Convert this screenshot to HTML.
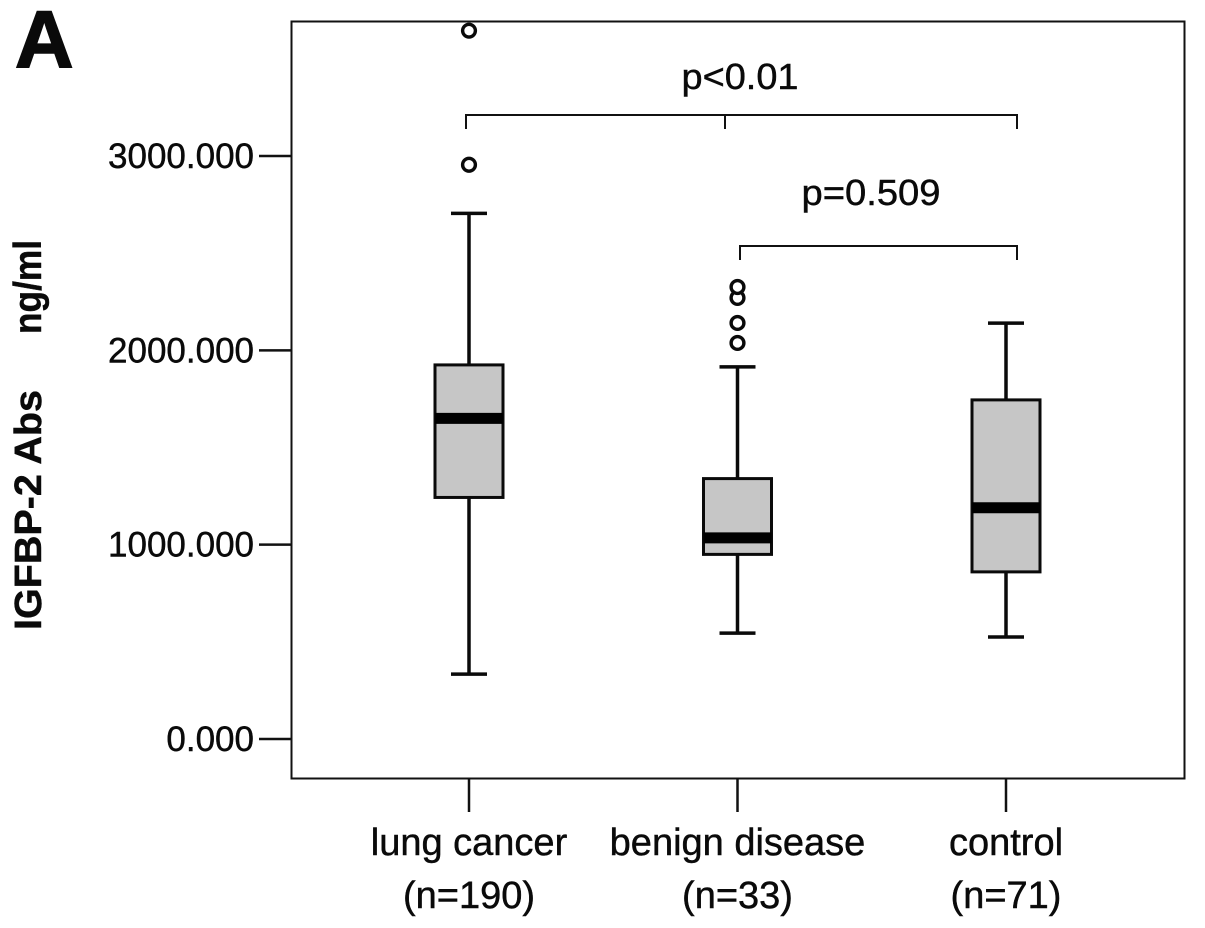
<!DOCTYPE html>
<html>
<head>
<meta charset="utf-8">
<title>IGFBP-2 Abs boxplot</title>
<style>
html,body{margin:0;padding:0;background:#fff;}
svg{display:block;}
text{font-family:"Liberation Sans",sans-serif;fill:#0a0a0a;stroke:#0a0a0a;stroke-width:0.45px;}
</style>
</head>
<body>
<svg id="chart" width="1205" height="928" viewBox="0 0 1205 928" xmlns="http://www.w3.org/2000/svg">
<rect x="0" y="0" width="1205" height="928" fill="#fff"/>
<text x="15" y="67" font-size="81" font-weight="bold" style="stroke-width:1.6px">A</text>
<rect x="291.5" y="21.5" width="893" height="757" fill="none" stroke="#111" stroke-width="2"/>
<text transform="translate(41,630) rotate(-90)" font-size="38" font-weight="bold" textLength="240" lengthAdjust="spacingAndGlyphs">IGFBP-2 Abs</text>
<text transform="translate(41,334) rotate(-90)" font-size="39" font-weight="bold" textLength="94" lengthAdjust="spacingAndGlyphs">ng/ml</text>
<g id="axes"></g>
<g id="boxes"></g>
<g fill="none" stroke="#111" stroke-width="2">
<path d="M466 129V115H1017V129M725 115V129"/>
<path d="M740 260V246H1017V260"/>
</g>
<text x="740" y="89" font-size="36" text-anchor="middle" textLength="117" lengthAdjust="spacingAndGlyphs">p&lt;0.01</text>
<text x="871" y="205" font-size="36" text-anchor="middle" textLength="139" lengthAdjust="spacingAndGlyphs">p=0.509</text>
</svg>
<script>
const categories = ['lung cancer', 'benign disease', 'control'];
const groupSizes = ['(n=190)', '(n=33)', '(n=71)'];
const whiskerLow = [334, 545, 525];
const quartile1 = [1243, 950, 860];
const medians = [1650, 1035, 1190];
const quartile3 = [1925, 1340, 1745];
const whiskerHigh = [2705, 1915, 2140];
const outliers = [[2955, 3645], [2038, 2141, 2270, 2326], []];
const yTicks = [0, 1000, 2000, 3000];
const yTickLabels = ['0.000', '1000.000', '2000.000', '3000.000'];

const NS = 'http://www.w3.org/2000/svg';
function yScale(v) { return 739 - v * 0.19433; }
function xScale(i) { return 469 + i * 268.5; }
function make(tag, attrs, parent) {
  const el = document.createElementNS(NS, tag);
  for (const k in attrs) el.setAttribute(k, attrs[k]);
  parent.appendChild(el);
  return el;
}
const axes = document.getElementById('axes');
const boxes = document.getElementById('boxes');

yTicks.forEach(function (t, i) {
  const y = yScale(t);
  const tick = make('line', {x1: 259, x2: 291, y1: y, y2: y, stroke: '#111', 'stroke-width': 2.5}, axes);
  
  
  const label = make('text', {x: 254, y: y + 12, 'font-size': 35, 'text-anchor': 'end'}, axes);
  
  
  label.textContent = yTickLabels[i];
});

categories.forEach(function (c, i) {
  const x = xScale(i);
  const tick = make('line', {x1: x, x2: x, y1: 778, y2: 812, stroke: '#111', 'stroke-width': 2.5}, axes);
  
  
  const label = make('text', {x: x, y: 855, 'font-size': 38, 'text-anchor': 'middle'}, axes);
  
  
  label.textContent = c;
  const nLabel = make('text', {x: x, y: 908, 'font-size': 38, 'text-anchor': 'middle'}, axes);
  
  
  nLabel.textContent = groupSizes[i];

  const stem = make('path', {
    d: 'M' + x + ' ' + yScale(whiskerHigh[i]) + 'V' + yScale(quartile3[i]) +
       'M' + x + ' ' + yScale(quartile1[i]) + 'V' + yScale(whiskerLow[i]),
    stroke: '#0a0a0a', 'stroke-width': 3.5, fill: 'none'
  }, boxes);
  
  

  [whiskerHigh[i], whiskerLow[i]].forEach(function (v) {
    const cap = make('line', {x1: x - 18, x2: x + 18, y1: yScale(v), y2: yScale(v), stroke: '#0a0a0a', 'stroke-width': 3.5}, boxes);
    
    
  });

  const box = make('rect', {
    x: x - 34, y: yScale(quartile3[i]), width: 68,
    height: yScale(quartile1[i]) - yScale(quartile3[i]),
    fill: '#c6c6c6', stroke: '#0a0a0a', 'stroke-width': 3
  }, boxes);
  
  

  const median = make('line', {x1: x - 34, x2: x + 34, y1: yScale(medians[i]), y2: yScale(medians[i]), stroke: '#000', 'stroke-width': 11}, boxes);
  
  

  outliers[i].forEach(function (v) {
    const dot = make('circle', {cx: x, cy: yScale(v), r: 6.4, fill: '#fff', stroke: '#0a0a0a', 'stroke-width': 3.4}, boxes);
    
    
  });
});
</script>
</body>
</html>
